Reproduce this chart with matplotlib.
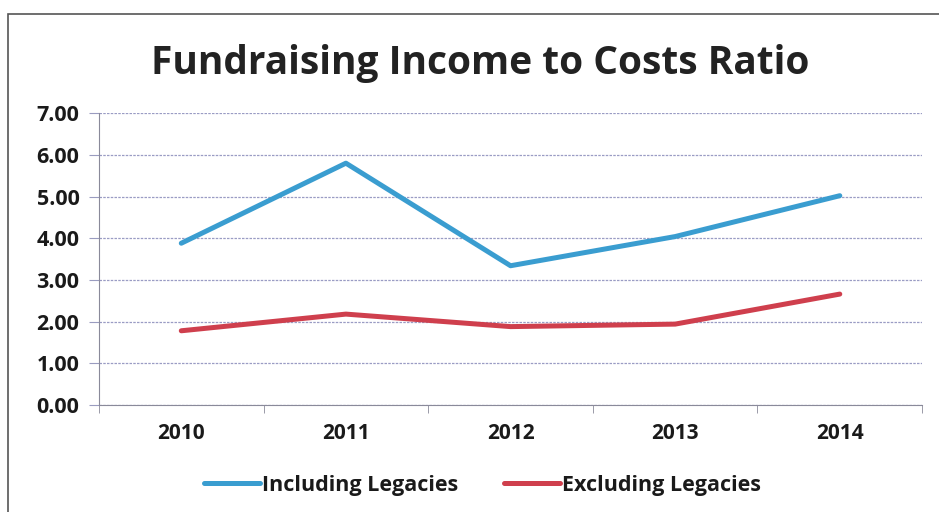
import matplotlib.pyplot as plt
from matplotlib.patches import Rectangle

years = ['2010', '2011', '2012', '2013', '2014']
including = [3.88, 5.80, 3.34, 4.04, 5.02]
excluding = [1.78, 2.18, 1.88, 1.94, 2.66]
yticks = [0, 1, 2, 3, 4, 5, 6, 7]

FONT = 'Open Sans'

fig = plt.figure(figsize=(9.39, 5.12), dpi=100)
ax = fig.add_axes([0.1054, 0.209, 0.8766, 0.570])

# frame around the chart (runs off the right and bottom edge)
fig.patches.append(Rectangle((8 / 939, -0.05), 1.1, 1 - 14 / 512 + 0.05,
                             transform=fig.transFigure, fill=False,
                             edgecolor='#555555', linewidth=1.2))

x = range(len(years))
ax.plot(x, including, color='#3a9dd0', linewidth=3.6, label='Including Legacies',
        solid_capstyle='round')
ax.plot(x, excluding, color='#cf3f4d', linewidth=3.6, label='Excluding Legacies',
        solid_capstyle='round')

ax.set_xlim(-0.5, len(years) - 0.5)
ax.set_ylim(0, 7)
ax.set_yticks(yticks)
ax.set_yticklabels([f'{v:.2f}' for v in yticks], fontsize=15.5,
                   fontweight='bold', family=FONT, color='#1a1a1a')
ax.set_xticks(list(x))
ax.set_xticklabels(years, fontsize=15, fontweight='bold', family=FONT,
                   color='#1a1a1a')
ax.tick_params(axis='x', length=0, pad=13)
ax.set_xticks([i - 0.5 for i in range(len(years) + 1)], minor=True)
ax.tick_params(axis='x', which='minor', length=6, color='#8a8a9a')
ax.tick_params(axis='y', length=7, color='#9a9cc0', pad=7)

ax.grid(axis='y', color='#9a9cc4', linewidth=0.9, linestyle=(0, (2, 1)))
ax.set_axisbelow(True)
for s in ['top', 'right']:
    ax.spines[s].set_visible(False)
ax.spines['left'].set_color('#8a8a9a')
ax.spines['bottom'].set_color('#8a8a9a')

fig.text(0.511, 0.876, 'Fundraising Income to Costs Ratio', ha='center', va='center',
         fontsize=28, fontweight='bold', family=FONT, color='#222222')

fig.legend(loc='center', bbox_to_anchor=(0.514, 0.052), ncol=2, frameon=False,
           handlelength=2.6, handletextpad=0.1, columnspacing=2.1,
           prop={'family': FONT, 'weight': 'bold', 'size': 15.5})
for t in fig.legends[0].get_texts():
    t.set_color('#1a1a1a')

fig.savefig('out.png', dpi=100)
